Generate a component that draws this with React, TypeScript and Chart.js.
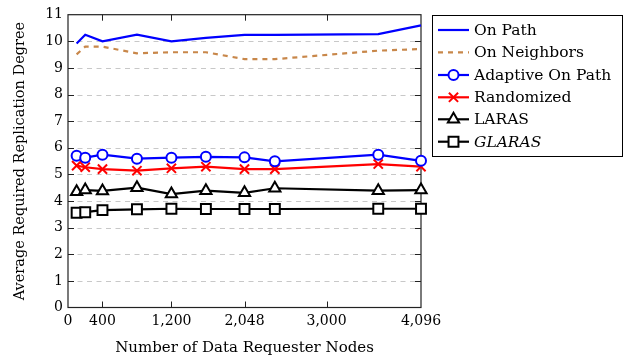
import React, { useEffect, useRef } from "react";
import { Chart, registerables } from "chart.js";
import { drawPoint } from "chart.js/helpers";

Chart.register(...registerables);

const nodeCounts = [100, 200, 400, 800, 1200, 1600, 2048, 2400, 3600, 4096];
const onPathValues = [9.92, 10.25, 10.0, 10.25, 10.0, 10.13, 10.24, 10.24, 10.27, 10.6];
const onNeighborsValues = [9.51, 9.8, 9.8, 9.55, 9.59, 9.59, 9.33, 9.33, 9.65, 9.71];
const adaptiveValues = [5.7, 5.63, 5.74, 5.59, 5.63, 5.66, 5.64, 5.49, 5.74, 5.51];
const randomizedValues = [5.33, 5.27, 5.2, 5.14, 5.23, 5.29, 5.2, 5.2, 5.39, 5.29];
const larasValues = [4.35, 4.41, 4.38, 4.5, 4.26, 4.39, 4.31, 4.48, 4.39, 4.41];
const glarasValues = [3.56, 3.58, 3.66, 3.69, 3.71, 3.7, 3.7, 3.7, 3.71, 3.71];

const seriesNames = ["On Path", "On Neighbors", "Adaptive On Path", "Randomized", "LARAS", "GLARAS"];
const xTickValues = [0, 400, 1200, 2048, 3000, 4096];
const yTickValues = [0, 1, 2, 3, 4, 5, 6, 7, 8, 9, 10, 11];

const xTitle = "Number of Data Requester Nodes";
const yTitle = "Average Required Replication Degree";

const FONT = "'DejaVu Serif', serif";

const toPoints = (vals: number[]) => nodeCounts.map((x, i) => ({ x, y: vals[i] }));

const framePlugin = {
  id: "frame",
  beforeDatasetsDraw(chart: any) {
    const { ctx, chartArea, scales } = chart;
    const { left, right, top, bottom } = chartArea;
    const x = scales.x;
    const y = scales.y;
    ctx.save();
    ctx.strokeStyle = "#c8c8c8";
    ctx.lineWidth = 1;
    ctx.setLineDash([5, 4.5]);
    yTickValues.slice(1, -1).forEach((v) => {
      const py = Math.round(y.getPixelForValue(v)) + 0.5;
      ctx.beginPath();
      ctx.moveTo(left, py);
      ctx.lineTo(right, py);
      ctx.stroke();
    });
    ctx.setLineDash([]);
    ctx.strokeStyle = "#222";
    ctx.lineWidth = 1.2;
    ctx.strokeRect(left, top, right - left, bottom - top);
    ctx.lineWidth = 1;
    ctx.beginPath();
    yTickValues.slice(1, -1).forEach((v) => {
      const py = Math.round(y.getPixelForValue(v)) + 0.5;
      ctx.moveTo(left, py);
      ctx.lineTo(left + 6, py);
      ctx.moveTo(right - 6, py);
      ctx.lineTo(right, py);
    });
    xTickValues.slice(1, -1).forEach((v) => {
      const px = Math.round(x.getPixelForValue(v)) + 0.5;
      ctx.moveTo(px, bottom);
      ctx.lineTo(px, bottom - 6);
      ctx.moveTo(px, top);
      ctx.lineTo(px, top + 6);
    });
    ctx.stroke();
    ctx.restore();
  },
  afterDraw(chart: any) {
    const { ctx } = chart;
    const bx = 432, by = 15, bw = 190, bh = 141;
    ctx.save();
    ctx.fillStyle = "#fff";
    ctx.fillRect(bx, by, bw, bh);
    ctx.strokeStyle = "#000";
    ctx.lineWidth = 1;
    ctx.strokeRect(bx + 0.5, by + 0.5, bw, bh);
    const rowY = [30, 52.3, 75, 97.3, 119.3, 141.7];
    chart.data.datasets.forEach((ds: any, i: number) => {
      const yy = rowY[i];
      ctx.save();
      ctx.strokeStyle = ds.borderColor;
      ctx.lineWidth = ds.borderWidth;
      ctx.setLineDash(ds.borderDash || []);
      ctx.beginPath();
      ctx.moveTo(438, yy);
      ctx.lineTo(469, yy);
      ctx.stroke();
      ctx.setLineDash([]);
      if (ds.pointRadius > 0) {
        ctx.fillStyle = ds.pointBackgroundColor;
        ctx.strokeStyle = ds.pointBorderColor;
        ctx.lineWidth = ds.pointBorderWidth;
        drawPoint(ctx, { pointStyle: ds.pointStyle, radius: ds.pointRadius, borderWidth: ds.pointBorderWidth, rotation: 0 } as any, 453.5, yy);
      }
      ctx.restore();
      ctx.fillStyle = "#000";
      ctx.textBaseline = "middle";
      ctx.textAlign = "left";
      ctx.font = (i === 5 ? "italic " : "") + "15.5px " + FONT;
      ctx.fillText(ds.label, 474, yy + 1);
    });
    ctx.restore();
  },
};

export default function App() {
  const ref = useRef<HTMLCanvasElement | null>(null);
  useEffect(() => {
    if (!ref.current) return;
    const mk = (label: string, vals: number[], color: string, extra: any) => ({
      label,
      data: toPoints(vals),
      borderColor: color,
      backgroundColor: color,
      borderWidth: 2.2,
      pointBackgroundColor: "#fff",
      pointBorderColor: color,
      pointBorderWidth: 2,
      pointRadius: 0,
      pointHoverRadius: 0,
      tension: 0,
      clip: false,
      ...extra,
    });
    const chart = new Chart(ref.current, {
      type: "line",
      data: {
        datasets: [
          mk(seriesNames[0], onPathValues, "#0000ff", {}),
          mk(seriesNames[1], onNeighborsValues, "#c8874a", { borderDash: [5, 5] }),
          mk(seriesNames[2], adaptiveValues, "#0000ff", { pointStyle: "circle", pointRadius: 5 }),
          mk(seriesNames[3], randomizedValues, "#ff0000", { pointStyle: "crossRot", pointRadius: 6.5 }),
          mk(seriesNames[4], larasValues, "#000000", { pointStyle: "triangle", pointRadius: 6.5 }),
          mk(seriesNames[5], glarasValues, "#000000", { pointStyle: "rect", pointRadius: 7 }),
        ],
      },
      options: {
        animation: false,
        responsive: false,
        events: [],
        layout: { padding: { top: 14.7, right: 206, left: 0, bottom: 0 } },
        plugins: { legend: { display: false }, tooltip: { enabled: false } },
        scales: {
          x: {
            type: "linear",
            min: 0,
            max: 4096,
            afterBuildTicks: (s: any) => {
              s.ticks = xTickValues.map((value) => ({ value }));
            },
            afterFit: (s: any) => {
              s.height = 50.5;
            },
            grid: { display: false, drawTicks: false },
            border: { display: false },
            ticks: {
              autoSkip: false,
              maxRotation: 0,
              padding: 5.5,
              color: "#000",
              font: { family: FONT, size: 14 },
              callback: (v: any) => Number(v).toLocaleString("en-US"),
            },
            title: {
              display: true,
              text: xTitle,
              color: "#000",
              font: { family: FONT, size: 15 },
              padding: { top: 0, bottom: 0.5 },
            },
          },
          y: {
            type: "linear",
            min: 0,
            max: 11,
            afterBuildTicks: (s: any) => {
              s.ticks = yTickValues.map((value) => ({ value }));
            },
            afterFit: (s: any) => {
              s.width = 68;
            },
            grid: { display: false, drawTicks: false },
            border: { display: false },
            ticks: {
              padding: 5,
              color: "#000",
              font: { family: FONT, size: 14 },
            },
            title: {
              display: true,
              text: yTitle,
              color: "#000",
              font: { family: FONT, size: 14.5 },
              padding: { top: 12, bottom: 0 },
            },
          },
        },
      },
      plugins: [framePlugin],
    });
    return () => chart.destroy();
  }, []);
  return (
    <div style={{ position: "fixed", left: 0, top: 0, width: 627, height: 358, background: "#fff" }}>
      <canvas ref={ref} width={627} height={358} style={{ display: "block" }} />
    </div>
  );
}
